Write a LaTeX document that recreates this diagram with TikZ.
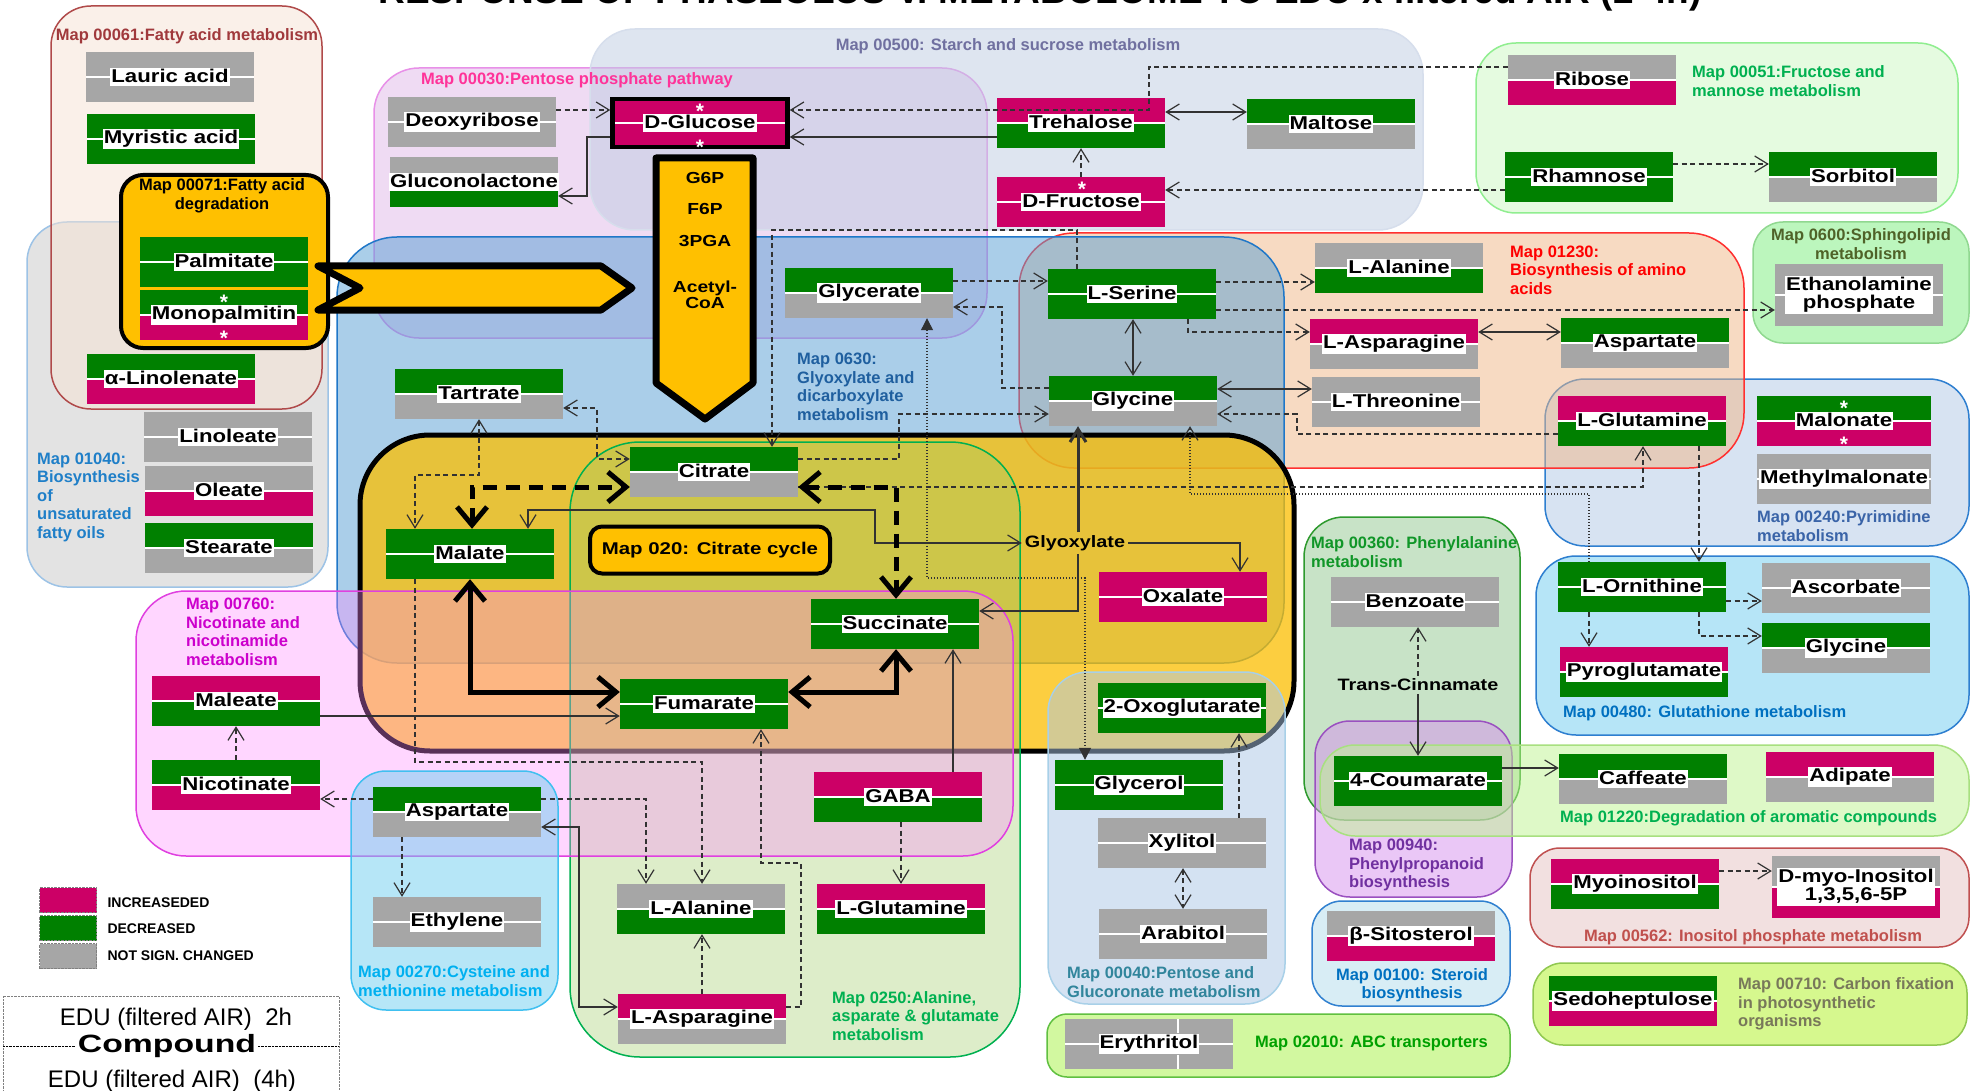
\documentclass[tikz,border=0pt]{standalone}
\usepackage{fontspec}
\setmainfont{Liberation Sans}
\newfontfamily\boxfont[FakeStretch=1.2]{Liberation Sans}
\newfontfamily\widefont[FakeStretch=1.35]{Liberation Sans}
\usetikzlibrary{arrows.meta}
\setlength{\fboxsep}{1pt}
\newcommand\lbl[1]{\makebox[0pt]{\colorbox{white}{\rule[-2.5pt]{0pt}{15.5pt}#1}}}
\newcommand\lbltwo[2]{\makebox[0pt]{\colorbox{white}{\def\arraystretch{0.8}\begin{tabular}{@{}c@{}}#1\\#2\end{tabular}}}}

\definecolor{mag}{RGB}{204,0,102}
\definecolor{grn}{RGB}{0,128,0}
\definecolor{gry}{RGB}{166,166,166}
\definecolor{orng}{RGB}{255,192,0}
\definecolor{ctca}{RGB}{252,190,0}
\definecolor{lnc}{RGB}{50,50,50}
% container fills (used at part opacity) and borders
\definecolor{f01040}{RGB}{201,201,201}\definecolor{b01040}{RGB}{157,195,230}
\definecolor{f00061}{RGB}{247,227,213}\definecolor{b00061}{RGB}{176,74,74}
\definecolor{f00030}{RGB}{225,185,233}\definecolor{b00030}{RGB}{232,144,232}
\definecolor{f00500}{RGB}{191,205,227}\definecolor{b00500}{RGB}{214,222,236}
\definecolor{f00051}{RGB}{205,249,195}\definecolor{b00051}{RGB}{144,238,144}
\definecolor{f0600}{RGB}{123,239,125}\definecolor{b0600}{RGB}{144,216,144}
\definecolor{f00240}{RGB}{177,201,231}\definecolor{b00240}{RGB}{46,127,208}
\definecolor{f01230}{RGB}{241,183,135}\definecolor{b01230}{RGB}{255,48,48}
\definecolor{f0630}{RGB}{87,159,213}\definecolor{b0630}{RGB}{31,119,200}
\definecolor{f0250}{RGB}{158,206,101}\definecolor{b0250}{RGB}{0,176,80}
\definecolor{f00760}{RGB}{255,139,255}\definecolor{b00760}{RGB}{224,64,224}
\definecolor{f00270}{RGB}{111,207,241}\definecolor{b00270}{RGB}{64,192,240}
\definecolor{f00040}{RGB}{171,199,231}\definecolor{b00040}{RGB}{168,208,232}
\definecolor{f00480}{RGB}{111,205,241}\definecolor{b00480}{RGB}{46,127,208}
\definecolor{f00360}{RGB}{147,201,145}\definecolor{b00360}{RGB}{46,154,46}
\definecolor{f00940}{RGB}{215,145,239}\definecolor{b00940}{RGB}{154,80,192}
\definecolor{f01220}{RGB}{191,245,145}\definecolor{b01220}{RGB}{168,224,128}
\definecolor{f00562}{RGB}{231,195,195}\definecolor{b00562}{RGB}{192,80,80}
\definecolor{f00100}{RGB}{179,221,237}\definecolor{b00100}{RGB}{48,128,208}
\definecolor{f00710}{RGB}{175,243,31}\definecolor{b00710}{RGB}{144,200,80}
\definecolor{f02010}{RGB}{167,243,67}\definecolor{b02010}{RGB}{96,192,64}
% label colours
\definecolor{t00061}{RGB}{160,57,60}
\definecolor{t00030}{RGB}{255,51,153}
\definecolor{t00500}{RGB}{112,112,160}
\definecolor{t00051}{RGB}{0,176,80}
\definecolor{t0600}{RGB}{79,98,40}
\definecolor{t01230}{RGB}{255,0,0}
\definecolor{t0630}{RGB}{31,95,159}
\definecolor{t01040}{RGB}{31,127,200}
\definecolor{t00760}{RGB}{204,0,204}
\definecolor{t00270}{RGB}{0,176,240}
\definecolor{t0250}{RGB}{0,176,80}
\definecolor{t00040}{RGB}{49,133,156}
\definecolor{t00360}{RGB}{16,150,40}
\definecolor{t00940}{RGB}{112,48,160}
\definecolor{t00562}{RGB}{192,80,77}
\definecolor{t00710}{RGB}{120,120,90}
\definecolor{t00100}{RGB}{0,112,192}
\definecolor{t02010}{RGB}{0,160,0}
\definecolor{t00480}{RGB}{0,112,192}
\definecolor{t00240}{RGB}{58,100,168}

\tikzset{
  cpd/.style 2 args={minimum width=168pt, minimum height=50pt, inner sep=0pt,
    font=\boxfont\bfseries\fontsize{18.5}{20}\selectfont,
    path picture={
      \fill[#1] (path picture bounding box.north west) rectangle (path picture bounding box.east);
      \fill[#2] (path picture bounding box.west) rectangle (path picture bounding box.south east);
      \draw[white, line width=1.5pt] (path picture bounding box.west) -- (path picture bounding box.east);
    }},
  mapbox/.style 2 args={fill=#1, fill opacity=0.5, draw=#2, line width=1.5pt},
  mapboxl/.style 2 args={mapbox={#1}{#2}, fill opacity=0.35},
  maplbl/.style={font=\bfseries\fontsize{16.5}{18.5}\selectfont, inner sep=0pt},
  plain/.style={font=\boxfont\bfseries\fontsize{16.5}{17}\selectfont, inner sep=3pt},
  ast/.style={text=white, font=\bfseries\fontsize{21}{21}\selectfont, inner sep=0pt, yshift=-5pt},
  con/.style={draw=lnc, line width=1.2pt},
  dsh/.style={con, dash pattern=on 5pt off 3.5pt},
  dts/.style={con, dash pattern=on 1.3pt off 1.7pt},
  tca/.style={draw=black, line width=5pt, >={Straight Barb[length=18pt,width=30pt]}},
  tcad/.style={tca, dash pattern=on 14pt off 9pt},
  legbox/.style={draw=gray, densely dotted, minimum width=57pt, minimum height=25pt, inner sep=0pt},
}

\begin{document}
\begin{tikzpicture}[x=1pt, y=-1pt, >={Straight Barb[length=13pt,width=16pt]}]
\useasboundingbox (0,0) rectangle (1975,1091);
\clip (0,0) rectangle (1975,1091);
\fill[white] (0,0) rectangle (1975,1091);

\node[font=\bfseries\fontsize{37}{40}\selectfont, anchor=base] (title) at (1040,4) {RESPONSE OF PHASEOLUS V. METABOLOME TO EDU x filtered AIR (2-4h)};

% pathway maps
\draw[mapbox={f01040}{b01040}, rounded corners=40pt] (27,222) rectangle (328,587);
\draw[mapbox={f00061}{b00061}, rounded corners=40pt] (51,6) rectangle (322,409);
\draw[mapbox={f00030}{b00030}, rounded corners=45pt] (374,68) rectangle (987,338);
\draw[mapbox={f00500}{b00500}, rounded corners=45pt] (590,29) rectangle (1423,230);
\draw[mapbox={f00051}{b00051}, rounded corners=40pt] (1476,43) rectangle (1958,213);
\draw[mapbox={f0600}{b0600}, rounded corners=30pt] (1753,222) rectangle (1969,343);
\draw[mapbox={f00240}{b00240}, rounded corners=40pt] (1545,379) rectangle (1969,546);
\draw[mapbox={f01230}{b01230}, rounded corners=55pt] (1019,233) rectangle (1744,468);
\draw[mapbox={f0630}{b0630}, rounded corners=60pt] (337,237) rectangle (1284,663);
\draw[fill=ctca, fill opacity=0.75, draw=black, line width=5pt, rounded corners=70pt] (360,435) rectangle (1294,751);
\draw[mapboxl={f0250}{b0250}, rounded corners=70pt] (570,442) rectangle (1020,1057);
\draw[mapboxl={f00760}{b00760}, rounded corners=50pt] (136,591) rectangle (1013,856);
\draw[mapbox={f00270}{b00270}, rounded corners=35pt] (351,771) rectangle (558,1010);
\draw[mapbox={f00040}{b00040}, rounded corners=40pt] (1048,672) rectangle (1285,1004);
\draw[mapbox={f00480}{b00480}, rounded corners=40pt] (1536,556) rectangle (1969,735);
\draw[mapbox={f00360}{b00360}, rounded corners=40pt] (1304,517) rectangle (1520,820);
\draw[mapbox={f00940}{b00940}, rounded corners=35pt] (1315,721) rectangle (1512,897);
\draw[mapbox={f01220}{b01220}, rounded corners=35pt] (1320,745) rectangle (1969,836);
\draw[mapbox={f00562}{b00562}, rounded corners=30pt] (1530,848) rectangle (1969,947);
\draw[mapbox={f00100}{b00100}, rounded corners=30pt] (1312,901) rectangle (1510,1006);
\draw[mapbox={f00710}{b00710}, rounded corners=30pt] (1533,963) rectangle (1967,1045);
\draw[mapbox={f02010}{b02010}, rounded corners=20pt] (1047,1014) rectangle (1510,1077);

\draw[fill=orng, line width=4pt, rounded corners=22pt] (121,175) rectangle (328,348);
\draw[fill=orng, line width=7pt, line join=round] (318,266) -- (601,266) -- (632,288) -- (601,310) -- (318,310) -- (360,288) -- cycle;
\draw[fill=orng, line width=7pt, line join=round] (656,158) -- (753,158) -- (753,383) -- (705,419) -- (656,383) -- cycle;

\node[maplbl, text=t00061] (n00061) at (187,36) {Map 00061:Fatty acid metabolism};
\node[maplbl, text=t00030] (n00030) at (577,80) {Map 00030:Pentose phosphate pathway};
\node[maplbl, text=t00500] (n00500) at (1008,46) {Map 00500: Starch and sucrose metabolism};
\node[maplbl, text=t00051, anchor=west, align=left] (n00051) at (1692,81) {Map 00051:Fructose and\\mannose metabolism};
\node[maplbl, text=t0600, align=center] (n0600) at (1861,244) {Map 0600:Sphingolipid\\metabolism};
\node[maplbl, text=t01230, anchor=west, align=left] (n01230) at (1510,270) {Map 01230:\\Biosynthesis of amino\\acids};
\node[maplbl, text=t0630, anchor=west, align=left] (n0630) at (797,387) {Map 0630:\\Glyoxylate and\\dicarboxylate\\metabolism};
\node[maplbl, text=t01040, anchor=west, align=left] (n01040) at (37,497) {Map 01040:\\Biosynthesis\\of\\unsaturated\\fatty oils};
\node[maplbl, text=t00760, anchor=west, align=left] (n00760) at (186,632) {Map 00760:\\Nicotinate and\\nicotinamide\\metabolism};
\node[maplbl, text=t00270, anchor=west, align=left] (n00270) at (358,981) {Map 00270:Cysteine and\\methionine metabolism};
\node[maplbl, text=t0250, anchor=west, align=left] (n0250) at (832,1016) {Map 0250:Alanine,\\asparate \& glutamate\\metabolism};
\node[maplbl, text=t00040, anchor=west, align=left] (n00040) at (1067,982) {Map 00040:Pentose and\\Glucoronate metabolism};
\node[maplbl, text=t00360, anchor=west, align=left] (n00360) at (1311,552) {Map 00360: Phenylalanine\\metabolism};
\node[maplbl, text=t00940, anchor=west, align=left] (n00940) at (1349,865) {Map 00940:\\Phenylpropanoid\\biosynthesis};
\node[maplbl, text=t0250, anchor=west] (n01220) at (1560,818) {Map 01220:Degradation of aromatic compounds};
\node[maplbl, text=t00562] (n00562) at (1753,937) {Map 00562: Inositol phosphate metabolism};
\node[maplbl, text=t00710, anchor=west, align=left] (n00710) at (1738,1004) {Map 00710: Carbon fixation\\in photosynthetic\\organisms};
\node[maplbl, text=t00100, align=center] (n00100) at (1412,985) {Map 00100: Steroid\\biosynthesis};
\node[maplbl, text=t02010, anchor=west] (n02010) at (1255,1043) {Map 02010: ABC transporters};
\node[maplbl, text=t00480, anchor=west] (n00480) at (1563,713) {Map 00480: Glutathione metabolism};
\node[maplbl, text=t00240, anchor=west, align=left] (n00240) at (1757,526) {Map 00240:Pyrimidine\\metabolism};
\node[maplbl, align=center] (n00071) at (222,196) {Map 00071:Fatty acid\\degradation};

\node[plain, font=\boxfont\bfseries\fontsize{16}{16}\selectfont] (g6p) at (705,178) {G6P};
\node[plain, font=\boxfont\bfseries\fontsize{16}{16}\selectfont] (f6p) at (705,209) {F6P};
\node[plain, font=\boxfont\bfseries\fontsize{16}{16}\selectfont] (pga) at (705,241) {3PGA};
\node[plain, font=\boxfont\bfseries\fontsize{16}{16}\selectfont, align=center] (acoa) at (705,295) {Acetyl-\\CoA};

% compounds
\node[cpd={gry}{gry}] (lauric) at (170,77) {\lbl{Lauric acid}};
\node[cpd={grn}{grn}] (myristic) at (171,139) {\lbl{Myristic acid}};
\node[cpd={grn}{grn}] (palmitate) at (224,262) {\lbl{Palmitate}};
\node[cpd={grn}{mag}] (monopalm) at (224,315) {\lbl{Monopalmitin}};
\node[cpd={grn}{mag}] (linolenate) at (171,379) {\lbl{α-Linolenate}};
\node[cpd={gry}{gry}] (linoleate) at (228,437) {\lbl{Linoleate}};
\node[cpd={gry}{mag}] (oleate) at (229,491) {\lbl{Oleate}};
\node[cpd={grn}{gry}] (stearate) at (229,548) {\lbl{Stearate}};
\node[cpd={gry}{gry}] (deoxyribose) at (472,122) {\lbl{Deoxyribose}};
\node[cpd={gry}{grn}] (gluconolac) at (474,182) {\lbl{Gluconolactone}};
\node[cpd={mag}{mag}, draw=black, line width=4.5pt, minimum width=175pt, minimum height=48pt] (glucose) at (700,123) {\lbl{D-Glucose}};
\node[cpd={mag}{grn}] (trehalose) at (1081,123) {\lbl{Trehalose}};
\node[cpd={grn}{gry}] (maltose) at (1331,124) {\lbl{Maltose}};
\node[cpd={mag}{mag}] (fructose) at (1081,202) {\lbl{D-Fructose}};
\node[cpd={gry}{mag}] (ribose) at (1592,80) {\lbl{Ribose}};
\node[cpd={grn}{grn}] (rhamnose) at (1589,177) {\lbl{Rhamnose}};
\node[cpd={grn}{gry}] (sorbitol) at (1853,177) {\lbl{Sorbitol}};
\node[cpd={gry}{gry}, minimum height=62pt] (ethanolamine) at (1859,295) {\lbltwo{Ethanolamine}{phosphate}};
\node[cpd={gry}{grn}] (alanineB) at (1399,268) {\lbl{L-Alanine}};
\node[cpd={mag}{gry}] (asparagineB) at (1394,344) {\lbl{L-Asparagine}};
\node[cpd={grn}{gry}] (aspartateB) at (1645,343) {\lbl{Aspartate}};
\node[cpd={gry}{gry}] (threonine) at (1396,402) {\lbl{L-Threonine}};
\node[cpd={grn}{grn}] (serine) at (1132,294) {\lbl{L-Serine}};
\node[cpd={grn}{gry}] (glycineA) at (1133,401) {\lbl{Glycine}};
\node[cpd={grn}{gry}] (glycerate) at (869,293) {\lbl{Glycerate}};
\node[cpd={grn}{gry}] (tartrate) at (479,394) {\lbl{Tartrate}};
\node[cpd={grn}{gry}] (citrate) at (714,472) {\lbl{Citrate}};
\node[cpd={grn}{grn}] (malate) at (470,554) {\lbl{Malate}};
\node[cpd={grn}{grn}] (succinate) at (895,624) {\lbl{Succinate}};
\node[cpd={grn}{grn}] (fumarate) at (704,704) {\lbl{Fumarate}};
\node[cpd={mag}{mag}] (oxalate) at (1183,597) {\lbl{Oxalate}};
\node[cpd={grn}{grn}] (oxoglut) at (1182,708) {\lbl{2-Oxoglutarate}};
\node[plain] (glyoxylate) at (1075,543) {Glyoxylate};
\node[draw=black, line width=4pt, fill=orng, rounded corners=12pt, minimum width=240pt, minimum height=47pt, font=\boxfont\bfseries\fontsize{17}{17}\selectfont] (map020) at (710,550) {Map 020: Citrate cycle};
\node[cpd={mag}{grn}] (gaba) at (898,797) {\lbl{GABA}};
\node[cpd={gry}{grn}] (alanineA) at (701,909) {\lbl{L-Alanine}};
\node[cpd={mag}{grn}] (glutamineA) at (901,909) {\lbl{L-Glutamine}};
\node[cpd={mag}{gry}] (asparagineA) at (702,1019) {\lbl{L-Asparagine}};
\node[cpd={mag}{grn}] (maleate) at (236,701) {\lbl{Maleate}};
\node[cpd={grn}{mag}] (nicotinate) at (236,785) {\lbl{Nicotinate}};
\node[cpd={grn}{gry}] (aspartateA) at (457,812) {\lbl{Aspartate}};
\node[cpd={gry}{gry}] (ethylene) at (457,922) {\lbl{Ethylene}};
\node[cpd={grn}{grn}] (glycerol) at (1139,785) {\lbl{Glycerol}};
\node[cpd={gry}{gry}] (xylitol) at (1182,843) {\lbl{Xylitol}};
\node[cpd={gry}{gry}] (arabitol) at (1183,934) {\lbl{Arabitol}};
\node[cpd={gry}{gry}] (erythritol) at (1149,1044) {\lbl{Erythritol}};
\draw[white, line width=1.5pt] (1178,1019) -- (1178,1033) (1178,1055) -- (1178,1069);
\node[cpd={gry}{gry}] (benzoate) at (1415,602) {\lbl{Benzoate}};
\node[plain] (cinnamate) at (1418,685) {Trans-Cinnamate};
\node[cpd={grn}{grn}] (coumarate) at (1418,781) {\lbl{4-Coumarate}};
\node[cpd={grn}{gry}] (caffeate) at (1643,779) {\lbl{Caffeate}};
\node[cpd={mag}{gry}] (adipate) at (1850,777) {\lbl{Adipate}};
\node[cpd={gry}{mag}] (sitosterol) at (1411,936) {\lbl{β-Sitosterol}};
\node[cpd={mag}{grn}] (myoinositol) at (1635,884) {\lbl{Myoinositol}};
\node[cpd={gry}{mag}, minimum height=62pt] (inositolP) at (1856,887) {\lbltwo{D-myo-Inositol}{1,3,5,6-5P}};
\node[cpd={grn}{mag}] (sedohept) at (1633,1001) {\lbl{Sedoheptulose}};
\node[cpd={mag}{grn}] (glutamineB) at (1642,421) {\lbl{L-Glutamine}};
\node[cpd={grn}{mag}, minimum width=174pt] (malonate) at (1844,421) {\lbl{Malonate}};
\node[cpd={gry}{gry}, minimum width=174pt] (methylmal) at (1844,479) {\lbl{Methylmalonate}};
\node[cpd={grn}{grn}] (ornithine) at (1642,587) {\lbl{L-Ornithine}};
\node[cpd={gry}{gry}] (ascorbate) at (1846,588) {\lbl{Ascorbate}};
\node[cpd={grn}{gry}] (glycineB) at (1846,648) {\lbl{Glycine}};
\node[cpd={mag}{grn}] (pyroglut) at (1644,672) {\lbl{Pyroglutamate}};

\node[ast] (astA) at (224,297) {*};
\node[ast] (astB) at (224,333) {*};
\node[ast] (astC) at (700,106) {*};
\node[ast] (astD) at (700,142) {*};
\node[ast] (astE) at (1082,184) {*};
\node[ast] (astF) at (1844,403) {*};
\node[ast] (astG) at (1844,439) {*};

% connectors
\draw[dsh,->] (deoxyribose.east |- 0,110) -- (glucose.west |- 0,110);
\draw[con,->] (glucose.west |- 0,137) -| (587,196) -- (gluconolac.east |- 0,196);
\draw[dsh,->] (ribose.west |- 0,67) -| (1149,110) -- (glucose.east |- 0,110);
\draw[con,->] (trehalose.west |- 0,137) -- (glucose.east |- 0,137);
\draw[con,<->] (trehalose.east |- 0,112) -- (maltose.west |- 0,112);
\draw[dsh,->] (fructose.north) -- (trehalose.south);
\draw[dsh,->] (rhamnose.west |- 0,190) -- (fructose.east |- 0,190);
\draw[dsh,->] (rhamnose.east |- 0,164) -- (sorbitol.west |- 0,164);
\draw[dsh,->] (serine.north -| 1077,0) |- (772,230) -- (citrate.north -| 772,0);
\draw[dsh,->] (glycerate.east |- 0,281) -- (serine.west |- 0,281);
\draw[dsh,->] (glycineA.west |- 0,388) -| (1002,307) -- (glycerate.east |- 0,307);
\draw[dsh,->] (citrate.east |- 0,459) -| (899,414) -- (glycineA.west |- 0,414);
\draw[dts,{Triangle[length=12pt,width=12pt]}-{Triangle[length=12pt,width=12pt]}] (glycerate.south -| 927,0) |- (1085,578) -- (glycerol.north -| 1085,0);
\draw[con, line width=3pt, ->] (glyoxylate.north -| 1078,0) -- (glycineA.south -| 1078,0);
\draw[con,->] (glyoxylate.east) -| (oxalate.north -| 1240,0);
\draw[con,->] (glyoxylate.south -| 1078,0) |- (succinate.east |- 0,611);
\draw[con,<->] (malate.north -| 528,0) |- (875,510) |- (glyoxylate.west);
\draw[con,<->] (serine.south -| 1133,0) -- (glycineA.north -| 1133,0);
\draw[con,<->] (glycineA.east |- 0,389) -- (threonine.west |- 0,389);
\draw[dsh,->] (glutamineB.west |- 0,434) -| (1297,414) -- (glycineA.east |- 0,414);
\draw[dsh,->] (serine.east |- 0,282) -- (alanineB.west |- 0,282);
\draw[dsh,->] (serine.south -| 1188,0) |- (asparagineB.west |- 0,332);
\draw[dsh,->] (serine.east |- 0,310) -- (ethanolamine.west |- 0,310);
\draw[con,<->] (asparagineB.east |- 0,332) -- (aspartateB.west |- 0,332);
\draw[dsh,->] (citrate.east |- 0,487) -| (glutamineB.south -| 1643,0);
\draw[dts,->] (ornithine.north -| 1589,0) |- (1190,494) -- (glycineA.south -| 1190,0);
\draw[dsh,->] (glutamineB.south -| 1699,0) -- (ornithine.north -| 1699,0);
\draw[dsh,->] (ornithine.east |- 0,601) -- (ascorbate.west |- 0,601);
\draw[dsh,->] (ornithine.south -| 1699,0) |- (glycineB.west |- 0,636);
\draw[dsh,->] (ornithine.south -| 1589,0) -- (pyroglut.north -| 1589,0);
\draw[dsh,->] (myoinositol.east |- 0,871) -- (inositolP.west |- 0,871);
\draw[con,->] (coumarate.east |- 0,768) -- (caffeate.west |- 0,768);
\draw[dsh,->] (cinnamate.north) -- (benzoate.south -| cinnamate.north);
\draw[con,->] (cinnamate.south) -- (coumarate.north -| cinnamate.south);
\draw[dsh,<->] (xylitol.south -| 1183,0) -- (arabitol.north -| 1183,0);
\draw[dsh,->] (xylitol.north -| 1239,0) -- (oxoglut.south -| 1239,0);
\draw[tca,<->] (malate.south -| 470,0) |- (fumarate.west |- 0,692);
\draw[tca,<->] (fumarate.east |- 0,692) -| (succinate.south -| 896,0);
\draw[tcad,<->] (citrate.east |- 0,487) -| (succinate.north -| 896,0);
\draw[tcad,<->] (malate.north -| 472,0) |- (citrate.west |- 0,487);
\draw[dsh,<->] (tartrate.east |- 0,408) -| (597,459) -- (citrate.west |- 0,459);
\draw[dsh,<->] (tartrate.south -| 479,0) |- (415,475) -- (malate.north -| 415,0);
\draw[dsh,->] (malate.south -| 415,0) |- (702,762) -- (alanineA.north -| 702,0);
\draw[con,->] (maleate.east |- 0,716) -- (fumarate.west |- 0,716);
\draw[dsh,->] (nicotinate.north) -- (maleate.south);
\draw[dsh,->] (aspartateA.west |- 0,799) -- (nicotinate.east |- 0,799);
\draw[dsh,->] (aspartateA.south -| 402,0) -- (ethylene.north -| 402,0);
\draw[dsh,->] (aspartateA.east |- 0,799) -| (alanineA.north -| 646,0);
\draw[con,<->] (asparagineA.west |- 0,1007) -| (579,827) -- (aspartateA.east |- 0,827);
\draw[dsh,->] (asparagineA.north -| 702,0) -- (alanineA.south -| 702,0);
\draw[dsh,->] (asparagineA.east |- 0,1007) -| (801,863) -| (fumarate.south -| 761,0);
\draw[dsh,->] (gaba.south -| 901,0) -- (glutamineA.north -| 901,0);
\draw[con,->] (gaba.north -| 953,0) -- (succinate.south -| 953,0);

% legend
\node[legbox, fill=mag] (legI) at (68,900) {};
\node[legbox, fill=grn] (legD) at (68,928) {};
\node[legbox, fill=gry] (legN) at (68,956) {};
\node[anchor=west, font=\bfseries\fontsize{14}{14}\selectfont] (legIt) at (104,903) {INCREASEDED};
\node[anchor=west, font=\bfseries\fontsize{14}{14}\selectfont] (legDt) at (104,929) {DECREASED};
\node[anchor=west, font=\bfseries\fontsize{14}{14}\selectfont] (legNt) at (104,956) {NOT SIGN. CHANGED};

\draw[densely dotted, gray] (3,996) rectangle (339,1110);
\draw[densely dotted] (3,1046) -- (339,1046);
\node[font=\fontsize{24}{24}\selectfont] (edu2) at (176,1019) {EDU (filtered AIR)\ \ 2h};
\node[fill=white, inner sep=2pt, font=\widefont\bfseries\fontsize{25}{25}\selectfont] (cmpd) at (167,1046) {Compound};
\node[font=\fontsize{24}{24}\selectfont] (edu4) at (172,1081) {EDU (filtered AIR)\ \ (4h)};
\end{tikzpicture}
\end{document}
